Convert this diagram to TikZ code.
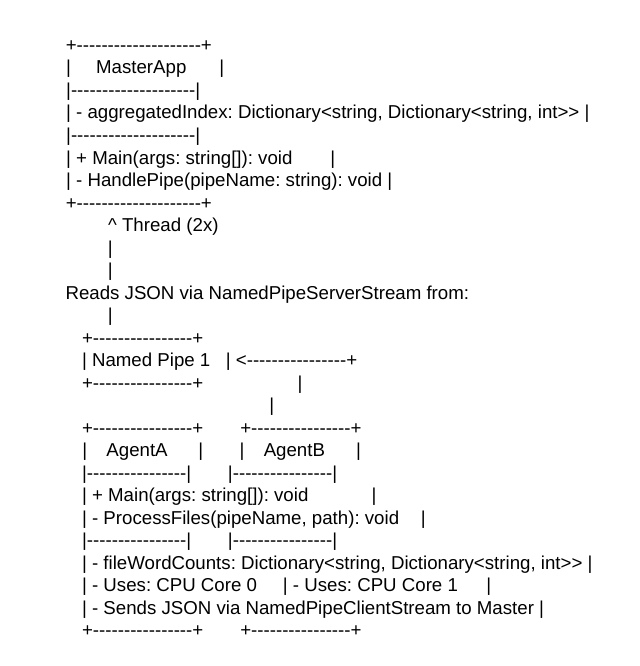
\documentclass[tikz,border=0pt]{standalone}
\usepackage{fontspec}
\setmainfont{Liberation Sans}[Ligatures=TeXOff]

\begin{document}
\begin{tikzpicture}[x=0.75pt,y=-0.75pt,
  txt/.style={anchor=base west,inner sep=0pt,font=\fontsize{14}{17}\selectfont\frenchspacing}]
  \fill[white] (0,0) rectangle (639,666);
  \useasboundingbox (0,0) rectangle (639,666);
  % MasterApp box
  \node[txt] (mtop) at (65.5,51.5) {+--------------------+};
  \node[txt] (mnamel) at (65.9,74.0) {|};
  \node[txt] (mname) at (95.9,74.0) {MasterApp};
  \node[txt] (mnamer) at (219,74.0) {|};
  \node[txt] (msep1) at (65.9,96.5) {|--------------------|};
  \node[txt] (mfield) at (65.9,119.0) {| - aggregatedIndex: Dictionary<string, Dictionary<string, int>> |};
  \node[txt] (msep2) at (65.9,141.5) {|--------------------|};
  \node[txt] (mmain) at (65.9,164.1) {| + Main(args: string[]): void};
  \node[txt] (mmainr) at (330,164.1) {|};
  \node[txt] (mpipe) at (65.9,186.6) {| - HandlePipe(pipeName: string): void |};
  \node[txt] (mbot) at (65.5,209.1) {+--------------------+};
  % thread link
  \node[txt] (thread) at (107.9,231.6) {\textasciicircum{} Thread (2x)};
  \node[txt] (vbar1) at (107.6,254.1) {|};
  \node[txt] (vbar2) at (107.6,276.6) {|};
  \node[txt] (reads) at (65.3,299.1) {Reads JSON via NamedPipeServerStream from:};
  \node[txt] (vbar3) at (107.6,321.6) {|};
  % named pipe
  \node[txt] (ptop) at (81.8,344.1) {+----------------+};
  \node[txt] (pname) at (81.8,366.6) {| Named Pipe 1};
  \node[txt] (parrow) at (225.6,366.6) {| <----------------+};
  \node[txt] (pbot) at (81.8,389.2) {+----------------+};
  \node[txt] (vbar4) at (297.3,389.2) {|};
  \node[txt] (vbar5) at (269,411.7) {|};
  % agents
  \node[txt] (atop) at (81.8,434.2) {+----------------+};
  \node[txt] (btop) at (240,434.2) {+----------------+};
  \node[txt] (anamel) at (82.1,456.7) {|};
  \node[txt] (aname) at (106.2,456.7) {AgentA};
  \node[txt] (anamer) at (198.1,456.7) {|};
  \node[txt] (bnamel) at (239.4,456.7) {|};
  \node[txt] (bname) at (263.5,456.7) {AgentB};
  \node[txt] (bnamer) at (355.8,456.7) {|};
  \node[txt] (asep1) at (81.8,479.2) {|----------------|};
  \node[txt] (bsep1) at (227.7,479.2) {|----------------|};
  \node[txt] (amain) at (81.8,501.7) {| + Main(args: string[]): void};
  \node[txt] (amainr) at (371.3,501.7) {|};
  \node[txt] (aproc) at (81.8,524.2) {| - ProcessFiles(pipeName, path): void};
  \node[txt] (aprocr) at (420.6,524.2) {|};
  \node[txt] (asep2) at (81.8,546.7) {|----------------|};
  \node[txt] (bsep2) at (227.7,546.7) {|----------------|};
  \node[txt] (afield) at (81.8,569.2) {| - fileWordCounts: Dictionary<string, Dictionary<string, int>> |};
  \node[txt] (acore) at (81.8,591.7) {| - Uses: CPU Core 0};
  \node[txt] (bcore) at (282.7,591.7) {| - Uses: CPU Core 1};
  \node[txt] (bcorer) at (486,591.7) {|};
  \node[txt] (asend) at (81.8,614.3) {| - Sends JSON via NamedPipeClientStream to Master |};
  \node[txt] (abot) at (81.8,636.8) {+----------------+};
  \node[txt] (bbot) at (240,636.8) {+----------------+};
\end{tikzpicture}
\end{document}
